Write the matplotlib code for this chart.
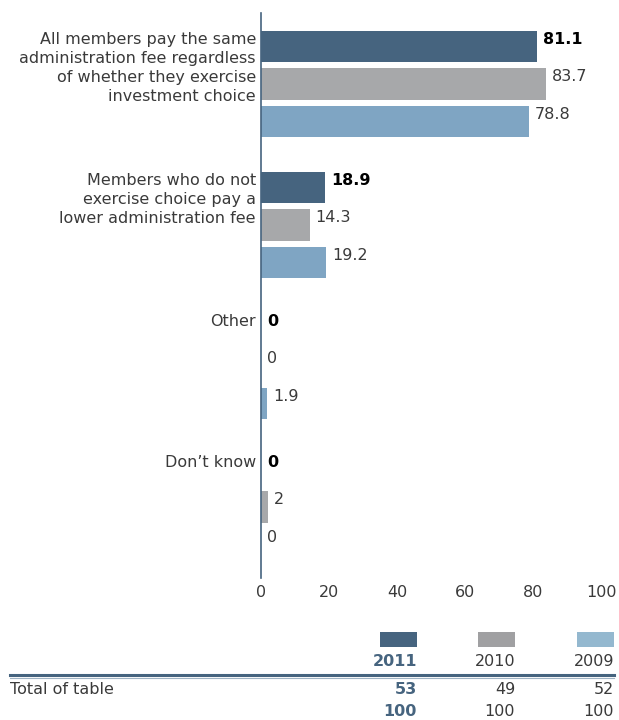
import matplotlib
matplotlib.use("Agg")
import matplotlib.pyplot as plt
from matplotlib.patches import Rectangle
from matplotlib.lines import Line2D

plt.rcParams['font.family'] = ['DejaVu Sans']

categories = [
    "All members pay the same\nadministration fee regardless\nof whether they exercise\ninvestment choice",
    "Members who do not\nexercise choice pay a\nlower administration fee",
    "Other",
    "Don\u2019t know",
]
years = ["2011", "2010", "2009"]
values = {
    "2011": [81.1, 18.9, 0, 0],
    "2010": [83.7, 14.3, 0, 2],
    "2009": [78.8, 19.2, 1.9, 0],
}
totals = {"2011": 53, "2010": 49, "2009": 52}
pct_totals = {"2011": 100, "2010": 100, "2009": 100}
ticks = [0, 20, 40, 60, 80, 100]

colors = {"2011": "#46647F", "2010": "#A7A8AA", "2009": "#7FA5C3"}
legend_colors = {"2011": "#46647F", "2010": "#A0A0A2", "2009": "#94B8CF"}
text_col = "#3a3a3a"
FS = 11.5

W, H = 619, 720
fig = plt.figure(figsize=(W / 100, H / 100), dpi=100)
ax = fig.add_axes([261 / W, 1 - 578 / H, 340 / W, (578 - 13) / H])

S = 0.266
bh = 0.22
for si, yr in enumerate(years):
    for gi, v in enumerate(values[yr]):
        yc = gi + si * S
        ax.barh(yc, v, height=bh, color=colors[yr], edgecolor='none')
        lab = f"{v:g}"
        ax.text(v + 1.8, yc - bh / 2 + 0.005, lab, va='top', ha='left',
                fontsize=FS, color='black' if yr == "2011" else text_col,
                fontweight='bold' if yr == "2011" else 'normal')

for gi, cat in enumerate(categories):
    ax.text(-1.5, gi - bh / 2 + 0.005, cat, ha='right', va='top', fontsize=FS,
            color=text_col, linespacing=1.33)

ax.set_xlim(0, 100)
ax.set_ylim((578 - 46.5) / 141, (13 - 46.5) / 141)
ax.set_xticks(ticks)
ax.set_xticklabels([str(t) for t in ticks], fontsize=FS, color=text_col)
ax.tick_params(axis='x', length=0, pad=5)
ax.set_yticks([])
for sp in ['top', 'right', 'bottom']:
    ax.spines[sp].set_visible(False)
ax.spines['left'].set_color('#46647F')
ax.spines['left'].set_linewidth(1.2)

# bottom table
col_right = {"2011": 417, "2010": 515, "2009": 614}
for yr in years:
    r = col_right[yr]
    fig.add_artist(Rectangle(((r - 37) / W, 1 - 647 / H), 37 / W, 15 / H,
                             transform=fig.transFigure, color=legend_colors[yr], lw=0))
    bold = yr == "2011"
    c = "#46647F" if bold else text_col
    fw = 'bold' if bold else 'normal'
    fig.text(r / W, 1 - 662 / H, yr, ha='right', va='center', fontsize=FS, color=c, fontweight=fw)
    fig.text(r / W, 1 - 689 / H, str(totals[yr]), ha='right', va='center', fontsize=FS, color=c, fontweight=fw)
    fig.text(r / W, 1 - 711 / H, str(pct_totals[yr]), ha='right', va='center', fontsize=FS, color=c, fontweight=fw)

fig.add_artist(Line2D([10 / W, 614 / W], [1 - 675 / H, 1 - 675 / H], transform=fig.transFigure,
                      color="#46647F", lw=2.2))
fig.add_artist(Line2D([10 / W, 614 / W], [1 - 677.5 / H, 1 - 677.5 / H], transform=fig.transFigure,
                      color="#9FB3C4", lw=0.8))
fig.text(10 / W, 1 - 689 / H, "Total of table", ha='left', va='center', fontsize=FS, color=text_col)

fig.savefig("out.png", dpi=100)
